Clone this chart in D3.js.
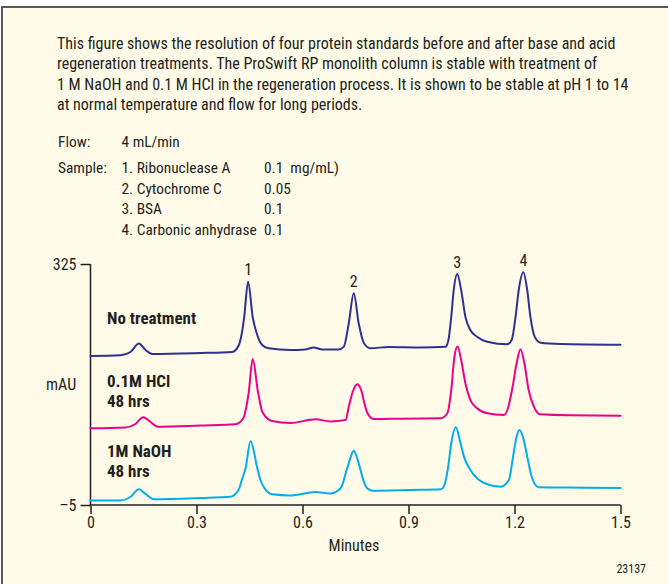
<!DOCTYPE html>
<html>
<head>
<meta charset="utf-8">
<script src="https://cdn.jsdelivr.net/npm/d3@7"></script>
<style>
  html, body { margin: 0; padding: 0; background: #ffffff; }
  svg { display: block; }
  text { font-family: "Liberation Sans Narrow", "Arial Narrow", "Roboto Condensed", sans-serif; fill: #231f20; white-space: pre; }
</style>
</head>
<body>
<svg id="chart" width="668" height="584"></svg>
<script>
// Description block
const introLines = [
  "This figure shows the resolution of four protein standards before and after base and acid",
  "regeneration treatments. The ProSwift RP monolith column is stable with treatment of",
  "1 M NaOH and 0.1 M HCl in the regeneration process. It is shown to be stable at pH 1 to 14",
  "at normal temperature and flow for long periods."
];
const flowLabel = "Flow:";
const flowValue = "4 mL/min";
const sampleLabel = "Sample:";
const sampleNames = ["1. Ribonuclease A", "2. Cytochrome C", "3. BSA", "4. Carbonic anhydrase"];
const sampleConc = ["0.1  mg/mL)", "0.05", "0.1", "0.1"];

// Axes
const xTicks = [0, 0.3, 0.6, 0.9, 1.2, 1.5];
const xTickLabels = ["0", "0.3", "0.6", "0.9", "1.2", "1.5"];
const yTicks = [325, -5];
const yTickLabels = ["325", "–5"];
const xTitle = "Minutes";
const yTitle = "mAU";
const figureId = "23137";

// Peak numbers: [minutes, mAU position of label]
const peakLabels = [
  { n: "1", t: 0.446, v: 310 },
  { n: "2", t: 0.745, v: 294 },
  { n: "3", t: 1.038, v: 320 },
  { n: "4", t: 1.225, v: 322 }
];

// Chromatograms: [minutes, mAU]
const noTreatment = [
  [0, 199], [0.085, 200], [0.113, 204.5], [0.137, 216], [0.156, 207.2], [0.175, 201.8],
  [0.311, 203.1], [0.401, 204.5], [0.420, 214.1], [0.429, 232.3], [0.435, 252.4], [0.446, 300.8],
  [0.459, 252.4], [0.469, 232.3], [0.486, 214.1], [0.504, 209.6], [0.566, 207.2], [0.608, 207.9],
  [0.631, 210.7], [0.657, 207.9], [0.702, 207.9], [0.717, 211.8], [0.731, 243.8], [0.745, 284.9],
  [0.759, 243.8], [0.774, 216.4], [0.792, 209.6], [0.843, 211.4], [0.934, 210.7], [1.005, 211.8],
  [1.013, 220.9], [1.021, 252.8], [1.028, 289.4], [1.038, 311.3], [1.049, 289.4], [1.061, 252.8],
  [1.075, 234.6], [1.094, 225.5], [1.123, 218.6], [1.179, 215.0], [1.192, 220.9], [1.203, 252.8],
  [1.212, 289.4], [1.225, 313.6], [1.236, 289.4], [1.245, 252.8], [1.257, 225.5], [1.274, 217.2],
  [1.330, 215.5], [1.5, 214.5]
];
const hcl48 = [
  [0, 100.0], [0.099, 101.1], [0.127, 105.9], [0.149, 115.1], [0.170, 108.7], [0.190, 102.3],
  [0.311, 103.9], [0.410, 105.5], [0.433, 114.1], [0.442, 131.9], [0.448, 149.7], [0.459, 194.9],
  [0.474, 149.7], [0.480, 134.7], [0.486, 122.8], [0.514, 110.1], [0.566, 107.3], [0.637, 112.4],
  [0.679, 109.4], [0.722, 111.4], [0.731, 129.6], [0.743, 151.1], [0.755, 160.3], [0.767, 151.1],
  [0.775, 134.7], [0.784, 120.6], [0.801, 112.8], [0.877, 113.2], [0.991, 113.7], [1.010, 120.6],
  [1.021, 152.5], [1.030, 198.1], [1.039, 212.0], [1.049, 193.6], [1.061, 161.7], [1.075, 138.8],
  [1.094, 127.4], [1.123, 120.6], [1.170, 118.3], [1.180, 125.1], [1.193, 152.5], [1.206, 189.0],
  [1.217, 208.2], [1.228, 189.0], [1.240, 152.5], [1.255, 129.6], [1.271, 119.2], [1.358, 117.8],
  [1.5, 117.3]
];
const naoh48 = [
  [0, 1.0], [0.085, 1.3], [0.113, 6.0], [0.137, 16.6], [0.156, 10.1], [0.179, 2.9],
  [0.311, 4.6], [0.396, 6.4], [0.419, 15.6], [0.430, 32.0], [0.439, 45.7], [0.453, 82.7],
  [0.472, 45.7], [0.481, 29.3], [0.492, 18.3], [0.514, 9.7], [0.566, 8.1], [0.637, 12.8],
  [0.679, 10.8], [0.708, 17.9], [0.725, 43.0], [0.734, 56.7], [0.745, 69.4], [0.759, 52.2],
  [0.772, 29.3], [0.783, 17.9], [0.798, 14.6], [0.906, 15.6], [0.991, 16.6], [1.000, 20.1],
  [1.011, 43.0], [1.021, 79.5], [1.034, 101.4], [1.045, 84.0], [1.057, 61.2], [1.075, 43.0],
  [1.098, 30.0], [1.123, 23.4], [1.160, 20.1], [1.184, 29.3], [1.196, 61.2], [1.206, 88.6],
  [1.214, 97.7], [1.225, 86.4], [1.236, 61.2], [1.250, 31.6], [1.269, 19.3], [1.358, 18.8],
  [1.5, 18.3]
];

const traces = [
  { data: noTreatment, color: "#2e3192", label: ["No treatment"], labelY: [324] },
  { data: hcl48, color: "#ec008c", label: ["0.1M HCl", "48 hrs"], labelY: [386.7, 406.7] },
  { data: naoh48, color: "#00aeef", label: ["1M NaOH", "48 hrs"], labelY: [456.7, 476.7] }
];

const svg = d3.select("#chart");

// Panel background with left/top rule
svg.append("rect").attr("x", 1).attr("y", 6).attr("width", 667).attr("height", 578).attr("fill", "#fffbe8");
svg.append("line").attr("x1", 2).attr("x2", 2).attr("y1", 6).attr("y2", 584).attr("stroke", "#58595b").attr("stroke-width", 2);
svg.append("line").attr("x1", 1).attr("x2", 668).attr("y1", 7).attr("y2", 7).attr("stroke", "#58595b").attr("stroke-width", 2);

const fontSize = 16;
const tableSize = 15.4;

// Intro paragraph
svg.append("g").selectAll("text").data(introLines).join("text")
  .attr("x", 57).attr("y", (d, i) => 49 + i * 20.3)
  .attr("font-size", fontSize).text(d => d);

// Flow / sample table
svg.append("text").attr("x", 58).attr("y", 146.7).attr("font-size", tableSize).text(flowLabel);
svg.append("text").attr("x", 121.5).attr("y", 146.7).attr("font-size", tableSize).text(flowValue);
svg.append("text").attr("x", 58).attr("y", 173.3).attr("font-size", tableSize).text(sampleLabel);
const sampleY = [173.3, 193.5, 214, 234.5];
svg.append("g").selectAll("text").data(sampleNames).join("text")
  .attr("x", 121.5).attr("y", (d, i) => sampleY[i]).attr("font-size", tableSize).text(d => d);
svg.append("g").selectAll("text").data(sampleConc).join("text")
  .attr("x", 264).attr("y", (d, i) => sampleY[i]).attr("font-size", tableSize).text(d => d);

// Scales
const x = d3.scaleLinear().domain([0, 1.5]).range([90.5, 620.5]);
const y = d3.scaleLinear().domain([-5, 325]).range([505, 264]);

// Axes
const xAxis = svg.append("g").attr("transform", `translate(0,${y(-5)})`)
  .call(d3.axisBottom(x).tickValues(xTicks).tickFormat((d, i) => xTickLabels[i]).tickSize(9).tickPadding(3));
const yAxis = svg.append("g").attr("transform", `translate(${x(0)},0)`)
  .call(d3.axisLeft(y).tickValues(yTicks).tickFormat((d, i) => yTickLabels[i]).tickSize(10).tickPadding(4));
[xAxis, yAxis].forEach(g => {
  g.select(".domain").attr("stroke", "#231f20").attr("stroke-width", 1.5);
  g.selectAll(".tick line").attr("stroke", "#231f20").attr("stroke-width", 1.5);
  g.selectAll(".tick text").attr("font-family", null).attr("font-size", fontSize).attr("fill", "#231f20");
});
xAxis.select(".domain").attr("d", `M${x(0)},0H${x(1.5)}`);
yAxis.select(".domain").attr("d", `M0,${y(325)}V${y(-5)}`);

svg.append("text").attr("x", 354).attr("y", 551).attr("text-anchor", "middle").attr("font-size", fontSize).text(xTitle);
svg.append("text").attr("x", 46).attr("y", 390).attr("font-size", fontSize).text(yTitle);
svg.append("text").attr("x", 646).attr("y", 573).attr("text-anchor", "end").attr("font-size", 12).text(figureId);

// Traces
const line = d3.line().x(d => x(d[0])).y(d => y(d[1])).curve(d3.curveMonotoneX);
traces.forEach(tr => {
  svg.append("path").datum(tr.data).attr("d", line)
    .attr("fill", "none").attr("stroke", tr.color).attr("stroke-width", 2)
    .attr("stroke-linejoin", "round").attr("stroke-linecap", "round");
  tr.label.forEach((lab, i) => {
    svg.append("text").attr("x", 107).attr("y", tr.labelY[i])
      .attr("font-size", 17).attr("font-weight", "bold").text(lab);
  });
});

// Peak numbers
svg.append("g").selectAll("text").data(peakLabels).join("text")
  .attr("x", d => x(d.t)).attr("y", d => y(d.v))
  .attr("text-anchor", "middle").attr("font-size", fontSize).text(d => d.n);
</script>
</body>
</html>
